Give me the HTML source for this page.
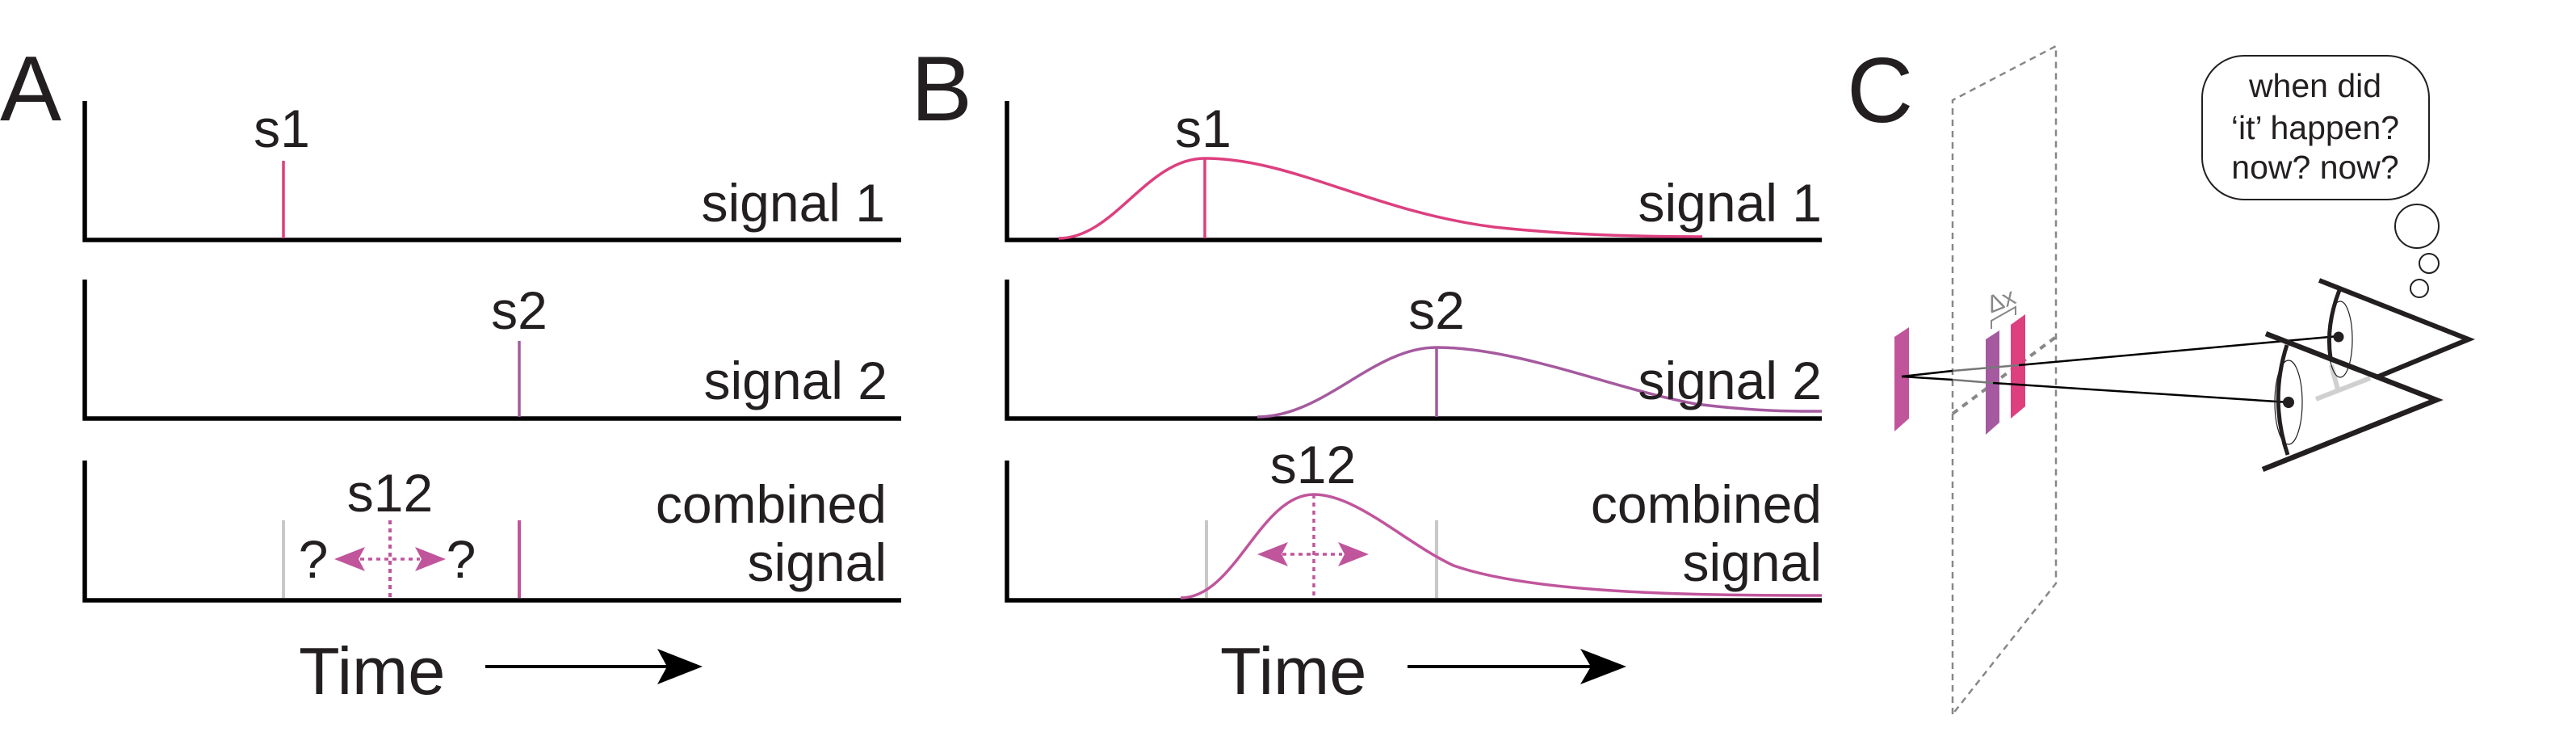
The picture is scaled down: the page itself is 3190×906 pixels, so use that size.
<!DOCTYPE html>
<html><head><meta charset="utf-8"><style>
html,body{margin:0;padding:0;background:#fff;}
svg{display:block;}
text{font-family:"Liberation Sans",Arial,sans-serif;fill:#231f20;}
</style></head><body>
<svg width="3190" height="906" viewBox="0 0 3190 906" xmlns="http://www.w3.org/2000/svg">
<!-- Panel A -->
<text x="0" y="149" font-size="114">A</text>
<g stroke="#000" stroke-width="5.5" fill="none">
<path d="M105,125 V297 H1116"/>
<path d="M105,346 V518 H1116"/>
<path d="M105,570 V743 H1116"/>
</g>
<line x1="351" y1="199" x2="351" y2="295" stroke="#dd3f7f" stroke-width="3.5"/>
<line x1="643" y1="422" x2="643" y2="516" stroke="#a55a9f" stroke-width="3.5"/>
<line x1="351" y1="644" x2="351" y2="740" stroke="#c8c8c8" stroke-width="4"/>
<line x1="643" y1="644" x2="643" y2="740" stroke="#c0559c" stroke-width="4"/>
<line x1="483" y1="644" x2="483" y2="740" stroke="#c0559c" stroke-width="4" stroke-dasharray="5,5"/>
<line x1="446" y1="692" x2="520" y2="692" stroke="#c0559c" stroke-width="3.5" stroke-dasharray="5,5"/>
<polygon points="414,692 452,677 444,692 452,707" fill="#c0559c"/>
<polygon points="552,692 514,677 522,692 514,707" fill="#c0559c"/>
<text x="349" y="182" font-size="66" text-anchor="middle">s1</text>
<text x="643" y="407" font-size="66" text-anchor="middle">s2</text>
<text x="483" y="633" font-size="66" text-anchor="middle">s12</text>
<text x="388" y="715" font-size="66" text-anchor="middle">?</text>
<text x="571" y="715" font-size="66" text-anchor="middle">?</text>
<text x="1096" y="274" font-size="66" text-anchor="end">signal 1</text>
<text x="1099" y="494" font-size="66" text-anchor="end">signal 2</text>
<text x="1098" y="647" font-size="66" text-anchor="end">combined</text>
<text x="1098" y="719" font-size="66" text-anchor="end">signal</text>
<text x="370" y="859" font-size="83">Time</text>
<line x1="601" y1="825" x2="830" y2="825" stroke="#000" stroke-width="4"/>
<polygon points="870,825 814,803 826,825 814,847" fill="#000"/>

<!-- Panel B -->
<text x="1128" y="149" font-size="114">B</text>
<g stroke="#000" stroke-width="5.5" fill="none">
<path d="M1247,125 V297 H2256"/>
<path d="M1247,346 V518 H2256"/>
<path d="M1247,570 V743 H2256"/>
</g>
<path d="M1311,295 C1380,295 1420,196 1492,196 C1600,196 1700,262 1850,281 C1950,292 2050,293 2108,293" stroke="#dd3f7f" stroke-width="3.5" fill="none"/>
<line x1="1492" y1="196" x2="1492" y2="295" stroke="#dd3f7f" stroke-width="3.5"/>
<path d="M1557,516 C1640,516 1700,430 1779,430 C1880,430 2000,482 2100,500 C2180,510 2230,509 2256,509" stroke="#a55a9f" stroke-width="3.5" fill="none"/>
<line x1="1779" y1="430" x2="1779" y2="516" stroke="#a55a9f" stroke-width="3.5"/>
<line x1="1494" y1="644" x2="1494" y2="740" stroke="#c8c8c8" stroke-width="4"/>
<line x1="1779" y1="644" x2="1779" y2="740" stroke="#c8c8c8" stroke-width="4"/>
<path d="M1462,740 C1530,740 1560,612 1627,612 C1680,612 1740,672 1800,700 C1900,735 2100,737 2256,737" stroke="#c0559c" stroke-width="3.5" fill="none"/>
<line x1="1627" y1="612" x2="1627" y2="740" stroke="#c0559c" stroke-width="3.5" stroke-dasharray="5,5"/>
<line x1="1588" y1="686" x2="1662" y2="686" stroke="#c0559c" stroke-width="3.5" stroke-dasharray="5,5"/>
<polygon points="1557,686 1595,671 1587,686 1595,701" fill="#c0559c"/>
<polygon points="1695,686 1657,671 1665,686 1657,701" fill="#c0559c"/>
<text x="1490" y="182" font-size="66" text-anchor="middle">s1</text>
<text x="1779" y="407" font-size="66" text-anchor="middle">s2</text>
<text x="1626" y="598" font-size="66" text-anchor="middle">s12</text>
<text x="2256" y="274" font-size="66" text-anchor="end">signal 1</text>
<text x="2256" y="494" font-size="66" text-anchor="end">signal 2</text>
<text x="2256" y="647" font-size="66" text-anchor="end">combined</text>
<text x="2256" y="719" font-size="66" text-anchor="end">signal</text>
<text x="1511" y="859" font-size="83">Time</text>
<line x1="1743" y1="825" x2="1975" y2="825" stroke="#000" stroke-width="4"/>
<polygon points="2014,825 1957,803 1970,825 1957,847" fill="#000"/>

<!-- Panel C -->
<text x="2287" y="151" font-size="114">C</text>
<g stroke="#888" stroke-width="2.5" fill="none" stroke-dasharray="8,6">
<path d="M2418,884 V124 L2546,57 V722 Z"/>
</g>
<line x1="2418" y1="512" x2="2546" y2="417" stroke="#888" stroke-width="4" stroke-dasharray="8,7"/>
<polygon points="2346,417 2364,405 2364,518 2346,534" fill="#c0559c"/>
<polygon points="2459,420 2476,409 2476,523 2459,538" fill="#a55a9f"/>
<polygon points="2490,402 2508,389 2508,503 2490,518" fill="#dd3f7f"/>
<polyline points="2466,407 2466,397 2496,380 2496,390" stroke="#888" stroke-width="2" fill="none"/>
<text x="2478" y="382" font-size="30" font-family="Liberation Serif" fill="#888" style="fill:#888" text-anchor="middle" transform="rotate(-22 2478 372)">Δx</text>
<!-- sight lines -->
<line x1="2355" y1="466" x2="2418" y2="459" stroke="#000" stroke-width="2.5"/>
<line x1="2418" y1="459" x2="2500" y2="452" stroke="#777" stroke-width="2.5"/>
<line x1="2500" y1="452" x2="2896" y2="416" stroke="#000" stroke-width="2.5"/>
<line x1="2355" y1="466" x2="2418" y2="470" stroke="#000" stroke-width="2.5"/>
<line x1="2418" y1="470" x2="2468" y2="474" stroke="#777" stroke-width="2.5"/>
<line x1="2468" y1="474" x2="2835" y2="498" stroke="#000" stroke-width="2.5"/>
<!-- nose -->
<g stroke="#d0d0d0" stroke-width="6" fill="none">
<line x1="2887" y1="452" x2="2895" y2="482"/>
<line x1="2868" y1="494" x2="2935" y2="468"/>
</g>
<!-- upper eye -->
<ellipse cx="2898" cy="420" rx="15" ry="47" stroke="#231f20" stroke-width="1.2" fill="none"/>
<path d="M2897,359 Q2880,403 2886,443" stroke="#231f20" stroke-width="5" fill="none"/>
<circle cx="2896" cy="417" r="6.5" fill="#231f20"/>
<polyline points="2872,347 3057,420 2943,467" stroke="#231f20" stroke-width="6" fill="none"/>
<!-- lower eye -->
<ellipse cx="2834" cy="498" rx="17" ry="52" stroke="#231f20" stroke-width="1.2" fill="none"/>
<path d="M2832,427 Q2810,495 2833,563" stroke="#231f20" stroke-width="5" fill="none"/>
<circle cx="2834" cy="498" r="7" fill="#231f20"/>
<polyline points="2806,413 3017,495 2802,581" stroke="#231f20" stroke-width="6.5" fill="none"/>
<!-- thought bubble -->
<rect x="2727" y="69" width="281" height="178" rx="52" ry="52" stroke="#231f20" stroke-width="2" fill="#fff"/>
<text x="2867" y="120" font-size="41" text-anchor="middle">when did</text>
<text x="2867" y="172" font-size="41" text-anchor="middle">‘it’ happen?</text>
<text x="2867" y="221" font-size="41" text-anchor="middle">now? now?</text>
<circle cx="2993" cy="280" r="27" stroke="#231f20" stroke-width="2" fill="none"/>
<circle cx="3008" cy="326" r="12" stroke="#231f20" stroke-width="2" fill="none"/>
<circle cx="2996" cy="357" r="11" stroke="#231f20" stroke-width="2" fill="none"/>
</svg>
</body></html>
